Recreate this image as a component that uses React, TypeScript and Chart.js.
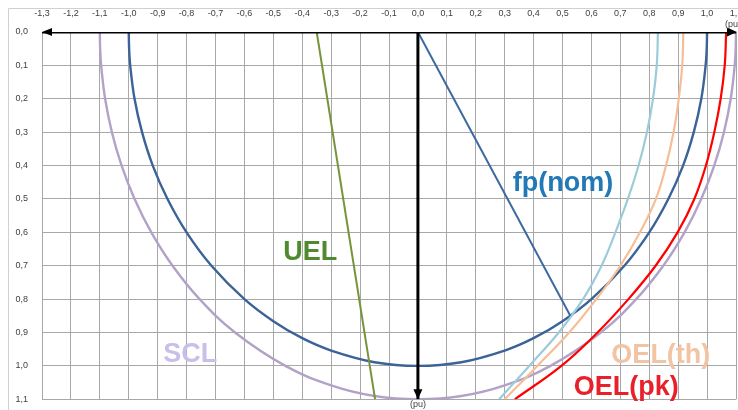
import React, { useEffect, useRef } from 'react';
import { Chart, registerables } from 'chart.js';

Chart.register(...registerables);

// ---- axis ranges / ticks ----
const xMin = -1.3;
const xMax = 1.1;
const yMin = 0;
const yMax = 1.1;
const tickStep = 0.1;

// ---- data, P downward, Q horizontal, in pu ----
// Unit circle (rated apparent power)
const unitX = [-1, -0.9987, -0.995, -0.98, -0.954, -0.917, -0.866, -0.8, -0.714, -0.6, -0.5, -0.4, -0.3, -0.15, 0, 0.15, 0.3, 0.4, 0.5, 0.6, 0.714, 0.8, 0.866, 0.917, 0.954, 0.98, 0.995, 0.9987, 1];
const unitY = [0, 0.05, 0.1, 0.2, 0.3, 0.4, 0.5, 0.6, 0.7, 0.8, 0.866, 0.917, 0.954, 0.989, 1, 0.989, 0.954, 0.917, 0.866, 0.8, 0.7, 0.6, 0.5, 0.4, 0.3, 0.2, 0.1, 0.05, 0];
// SCL (stator current limit)
const sclX = [-1.1, -1.0989, -1.0955, -1.0817, -1.0583, -1.0247, -0.9798, -0.922, -0.8485, -0.755, -0.6325, -0.4583, -0.3, -0.15, 0, 0.15, 0.3, 0.4583, 0.6325, 0.755, 0.8485, 0.922, 0.9798, 1.0247, 1.0583, 1.0817, 1.0955, 1.0989, 1.1];
const sclY = [0, 0.05, 0.1, 0.2, 0.3, 0.4, 0.5, 0.6, 0.7, 0.8, 0.9, 1.0, 1.058, 1.09, 1.1, 1.09, 1.058, 1.0, 0.9, 0.8, 0.7, 0.6, 0.5, 0.4, 0.3, 0.2, 0.1, 0.05, 0];
// OEL curves sampled at these P values
const oelY = [0, 0.1, 0.2, 0.3, 0.4, 0.5, 0.6, 0.7, 0.8, 0.9, 1.0, 1.1];
const oelBlueX = [0.83, 0.826, 0.813, 0.792, 0.763, 0.726, 0.683, 0.635, 0.571, 0.487, 0.385, 0.281];
const oelThX = [0.918, 0.914, 0.902, 0.884, 0.858, 0.823, 0.768, 0.7, 0.617, 0.523, 0.413, 0.3];
const oelPkX = [1.066, 1.061, 1.047, 1.025, 0.996, 0.956, 0.898, 0.822, 0.728, 0.621, 0.496, 0.335];
// UEL straight line
const uelX = [-0.35, -0.148];
const uelY = [0, 1.1];
// fp(nom) line from origin to the rated point
const fpX = [0, 0.527];
const fpY = [0, 0.85];
// black axis arrows
const axisHX = [-1.3, 1.1];
const axisHY = [0, 0];
const axisVX = [0, 0];
const axisVY = [0, 1.1];

const labelTexts = ['fp(nom)', 'UEL', 'SCL', 'OEL(th)', 'OEL(pk)'];

const pts = (xs: number[], ys: number[]) => xs.map((x, i) => ({ x, y: ys[i] }));

const fmt = (v: number) => {
  if (Math.abs(v) < 1e-9) return '0,0';
  return v.toFixed(1).replace('.', ',');
};

// annotation placement (data coordinates: left x, baseline y)
const labelAnchors = [
  { x: 0.328, y: 0.475, color: '#2179b5' },
  { x: -0.466, y: 0.683, color: '#4f8a2e' },
  { x: -0.881, y: 0.988, color: '#c9bfe8' },
  { x: 0.669, y: 0.992, color: '#f2c4a3' },
  { x: 0.539, y: 1.087, color: '#e8202a' },
];

const decorPlugin = {
  id: 'decor',
  beforeDraw(chart: any) {
    const ctx = chart.ctx;
    ctx.save();
    ctx.fillStyle = '#ffffff';
    ctx.fillRect(0, 0, chart.width, chart.height);
    ctx.strokeStyle = '#d0d0d0';
    ctx.lineWidth = 1;
    ctx.beginPath();
    ctx.moveTo(8.5, chart.height);
    ctx.lineTo(8.5, 8.5);
    ctx.lineTo(chart.width, 8.5);
    ctx.stroke();
    ctx.restore();
  },
  afterDatasetsDraw(chart: any) {
    const ctx = chart.ctx;
    const xs = chart.scales.x;
    const ys = chart.scales.y;
    ctx.save();
    ctx.fillStyle = '#000';
    const tri = (tx: number, ty: number, dx: number, dy: number, len: number, half: number) => {
      const bx = tx - dx * len;
      const by = ty - dy * len;
      ctx.beginPath();
      ctx.moveTo(tx, ty);
      ctx.lineTo(bx - dy * half, by + dx * half);
      ctx.lineTo(bx + dy * half, by - dx * half);
      ctx.closePath();
      ctx.fill();
    };
    const hy = ys.getPixelForValue(axisHY[0]);
    tri(xs.getPixelForValue(axisHX[1]) + 1, hy, 1, 0, 10, 4.5);
    tri(xs.getPixelForValue(axisHX[0]), hy, -1, 0, 10, 4);
    const vx = xs.getPixelForValue(axisVX[1]);
    tri(vx, ys.getPixelForValue(axisVY[1]), 0, 1, 10, 4.5);

    // (pu) labels
    ctx.font = '9px "Liberation Sans", Arial, sans-serif';
    ctx.fillStyle = '#404040';
    ctx.textBaseline = 'middle';
    ctx.textAlign = 'center';
    ctx.fillText('(pu)', vx, ys.getPixelForValue(axisVY[1]) + 5.5);
    ctx.textAlign = 'left';
    ctx.fillText('(pu)', xs.getPixelForValue(axisHX[1]) - 11, hy - 7);

    // curve labels
    ctx.font = 'bold 27px "Liberation Sans", Arial, sans-serif';
    ctx.textBaseline = 'alphabetic';
    ctx.textAlign = 'left';
    labelTexts.forEach((t, i) => {
      const a = labelAnchors[i];
      ctx.fillStyle = a.color;
      ctx.fillText(t, xs.getPixelForValue(a.x), ys.getPixelForValue(a.y));
    });
    ctx.restore();
  },
};

export default function App() {
  const ref = useRef<HTMLCanvasElement | null>(null);
  useEffect(() => {
    if (!ref.current) return;
    const line = (data: any[], color: string, width: number) => ({
      data,
      borderColor: color,
      backgroundColor: color,
      borderWidth: width,
      showLine: true,
      pointRadius: 0,
      pointHoverRadius: 0,
      tension: 0.4,
      fill: false,
    });
    const chart = new Chart(ref.current, {
      type: 'scatter',
      data: {
        datasets: [
          { ...line(pts(axisHX, axisHY), '#000000', 3), tension: 0 },
          { ...line(pts(axisVX, axisVY), '#000000', 3), tension: 0 },
          { ...line(pts(fpX, fpY), '#3d6a9e', 2), tension: 0 },
          { ...line(pts(uelX, uelY), '#77933c', 2), tension: 0 },
          line(pts(oelPkX, oelY), '#ff0000', 2.2),
          line(pts(oelThX, oelY), '#f6be98', 2.2),
          line(pts(oelBlueX, oelY), '#9ccbd9', 2.2),
          line(pts(unitX, unitY), '#3b6397', 2.4),
          line(pts(sclX, sclY), '#b3a2c7', 2.4),
        ],
      },
      options: {
        responsive: false,
        animation: false,
        layout: { padding: { left: 0, right: 2, top: 0, bottom: 10.7 } },
        plugins: {
          legend: { display: false },
          tooltip: { enabled: false },
        },
        events: [],
        scales: {
          x: {
            type: 'linear',
            position: 'top',
            min: xMin,
            max: xMax,
            afterFit: (s: any) => {
              s.height = 32;
              s.paddingLeft = 0;
              s.paddingRight = 0;
            },
            ticks: {
              stepSize: tickStep,
              autoSkip: false,
              maxRotation: 0,
              padding: 12.6,
              color: '#404040',
              font: { size: 9, family: '"Liberation Sans", Arial, sans-serif' },
              callback: (v: any) => fmt(Number(v)),
            },
            grid: { color: '#a8a8a8', lineWidth: 1, drawTicks: false },
            border: { display: true, color: '#a8a8a8' },
          },
          y: {
            type: 'linear',
            position: 'left',
            reverse: true,
            min: yMin,
            max: yMax,
            afterFit: (s: any) => {
              s.width = 42;
              s.paddingTop = 0;
              s.paddingBottom = 0;
            },
            ticks: {
              stepSize: tickStep,
              autoSkip: false,
              padding: 14,
              color: '#404040',
              font: { size: 9, family: '"Liberation Sans", Arial, sans-serif' },
              callback: (v: any) => fmt(Number(v)),
            },
            grid: { color: '#a8a8a8', lineWidth: 1, drawTicks: false },
            border: { display: true, color: '#a8a8a8' },
          },
        },
      },
      plugins: [decorPlugin],
    } as any);
    return () => chart.destroy();
  }, []);
  return (
    <div style={{ position: 'absolute', left: 0, top: 0, width: 738, height: 410 }}>
      <canvas ref={ref} width={738} height={410} style={{ display: 'block' }} />
    </div>
  );
}
